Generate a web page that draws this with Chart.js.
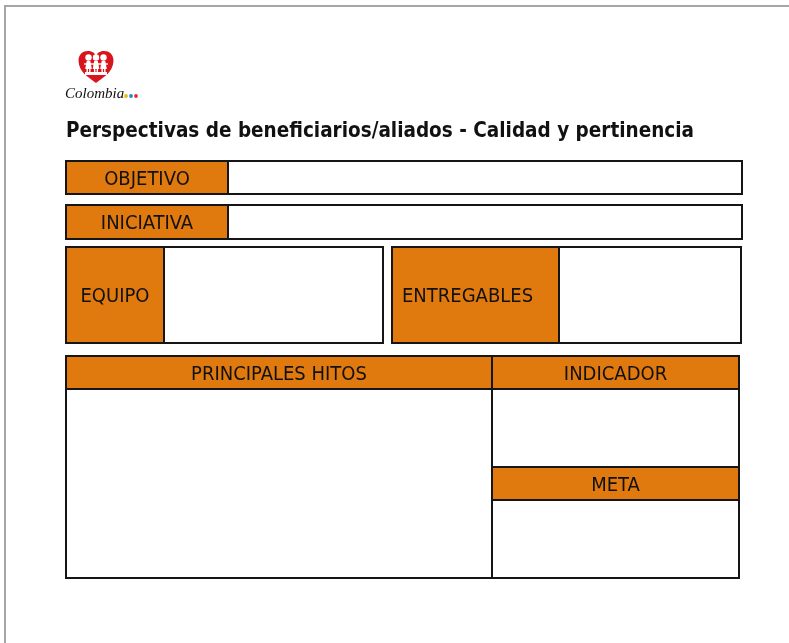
<!DOCTYPE html>
<html>
<head>
<meta charset="utf-8">
<script src="https://cdn.jsdelivr.net/npm/chart.js@4/dist/chart.umd.min.js"></script>
<style>
html,body{margin:0;padding:0;background:#fff;}
canvas{display:block;}
</style>
</head>
<body>
<canvas id="c" width="789" height="643"></canvas>
<script>
// ---- Data (page units) ----
const titleText = "Perspectivas de beneficiarios/aliados - Calidad y pertinencia";
const cellLabels = ["OBJETIVO", "", "INICIATIVA", "", "EQUIPO", "", "ENTREGABLES", "", "PRINCIPALES HITOS", "", "INDICADOR", "", "META", ""];
const cellX0 = [66, 228, 66, 228, 66, 164, 392, 559, 66, 66, 492, 492, 492, 492];
const cellX1 = [228, 742, 228, 742, 164, 383, 559, 741, 492, 492, 739, 739, 739, 739];
const cellY0 = [161, 161, 205, 205, 247, 247, 247, 247, 356, 389, 356, 389, 467, 500];
const cellY1 = [194, 194, 239, 239, 343, 343, 343, 343, 389, 578, 389, 467, 500, 578];
const cellIsHeader = [true, false, true, false, true, false, true, false, true, false, true, false, true, false];
const cellLeftAligned = [false, false, false, false, false, false, true, false, false, false, false, false, false, false];
const logoDotColors = ["#F2B705", "#2F80D1", "#E2312B"];

const ORANGE = "#E0790E";
const LINE = "#151515";

const formPlugin = {
  id: "formPlugin",
  afterDraw(chart) {
    const ctx = chart.ctx;
    const xs = chart.scales.x, ys = chart.scales.y;
    const px = v => Math.round(xs.getPixelForValue(v));
    const py = v => Math.round(ys.getPixelForValue(v));
    ctx.save();

    // page border (top & left)
    ctx.strokeStyle = "#A6A6A6";
    ctx.lineWidth = 2;
    ctx.beginPath();
    ctx.moveTo(px(5), py(643));
    ctx.lineTo(px(5), py(6));
    ctx.lineTo(px(789), py(6));
    ctx.stroke();

    // cells: fills first
    for (let i = 0; i < cellLabels.length; i++) {
      const x0 = px(cellX0[i]), x1 = px(cellX1[i]), y0 = py(cellY0[i]), y1 = py(cellY1[i]);
      ctx.fillStyle = cellIsHeader[i] ? ORANGE : "#FFFFFF";
      ctx.fillRect(x0, y0, x1 - x0, y1 - y0);
    }
    // borders
    ctx.strokeStyle = LINE;
    ctx.lineWidth = 2;
    for (let i = 0; i < cellLabels.length; i++) {
      const x0 = px(cellX0[i]), x1 = px(cellX1[i]), y0 = py(cellY0[i]), y1 = py(cellY1[i]);
      ctx.strokeRect(x0, y0, x1 - x0, y1 - y0);
    }
    // labels
    ctx.fillStyle = "#111";
    ctx.font = "20px 'DejaVu Sans Condensed', 'DejaVu Sans', sans-serif";
    ctx.textBaseline = "alphabetic";
    for (let i = 0; i < cellLabels.length; i++) {
      if (!cellLabels[i]) continue;
      const cy = (py(cellY0[i]) + py(cellY1[i])) / 2;
      if (cellLeftAligned[i]) {
        ctx.textAlign = "left";
        ctx.fillText(cellLabels[i], px(cellX0[i]) + 10, cy + 7);
      } else {
        ctx.textAlign = "center";
        ctx.fillText(cellLabels[i], (px(cellX0[i]) + px(cellX1[i])) / 2, cy + 7);
      }
    }

    // title
    ctx.textAlign = "left";
    ctx.font = "bold 20.5px 'DejaVu Sans Condensed', 'DejaVu Sans', sans-serif";
    ctx.fillStyle = "#111";
    ctx.fillText(titleText, px(66), py(137));

    // logo: heart
    const hx = px(96), hy = py(50);
    ctx.fillStyle = "#D8141C";
    ctx.beginPath();
    ctx.moveTo(hx, hy + 6);
    ctx.bezierCurveTo(hx - 2, hy - 1, hx - 17.5, hy - 2, hx - 17.5, hy + 11);
    ctx.bezierCurveTo(hx - 17, hy + 22, hx - 8, hy + 27, hx, hy + 33);
    ctx.bezierCurveTo(hx + 8, hy + 27, hx + 17, hy + 22, hx + 17.5, hy + 11);
    ctx.bezierCurveTo(hx + 17.5, hy - 2, hx + 2, hy - 1, hx, hy + 6);
    ctx.closePath();
    ctx.fill();
    // kids
    ctx.fillStyle = "#FFFFFF";
    ctx.strokeStyle = "#FFFFFF";
    ctx.lineWidth = 1.4;
    [-7.5, 0, 7.5].forEach(dx => {
      const kx = hx + dx;
      ctx.beginPath(); ctx.arc(kx, hy + 7.5, 3.2, 0, Math.PI * 2); ctx.fill();
      ctx.beginPath();
      ctx.moveTo(kx - 1.8, hy + 11); ctx.lineTo(kx + 1.8, hy + 11);
      ctx.lineTo(kx + 3.3, hy + 19); ctx.lineTo(kx - 3.3, hy + 19); ctx.closePath(); ctx.fill();
      ctx.beginPath();
      ctx.moveTo(kx - 1.3, hy + 19); ctx.lineTo(kx - 1.3, hy + 22);
      ctx.moveTo(kx + 1.3, hy + 19); ctx.lineTo(kx + 1.3, hy + 22);
      ctx.stroke();
    });
    ctx.beginPath();
    ctx.moveTo(hx - 12, hy + 14); ctx.lineTo(hx + 12, hy + 14); ctx.stroke();
    ctx.fillRect(hx - 11, hy + 22, 22, 3);
    // Colombia
    ctx.fillStyle = "#111";
    ctx.font = "italic 15px 'Liberation Serif', serif";
    ctx.textAlign = "left";
    ctx.fillText("Colombia", px(65), py(98));
    logoDotColors.forEach((c, k) => {
      ctx.fillStyle = c;
      ctx.beginPath();
      ctx.arc(px(126) + k * 5, py(96), 1.9, 0, Math.PI * 2);
      ctx.fill();
    });
    ctx.restore();
  }
};

new Chart(document.getElementById("c"), {
  type: "scatter",
  data: { datasets: [{ data: [] }] },
  options: {
    responsive: false,
    animation: false,
    devicePixelRatio: 1,
    layout: { padding: 0 },
    plugins: { legend: { display: false }, tooltip: { enabled: false } },
    scales: {
      x: { type: "linear", min: 0, max: 789, display: false },
      y: { type: "linear", min: 0, max: 643, reverse: true, display: false }
    }
  },
  plugins: [formPlugin]
});
</script>
</body>
</html>
